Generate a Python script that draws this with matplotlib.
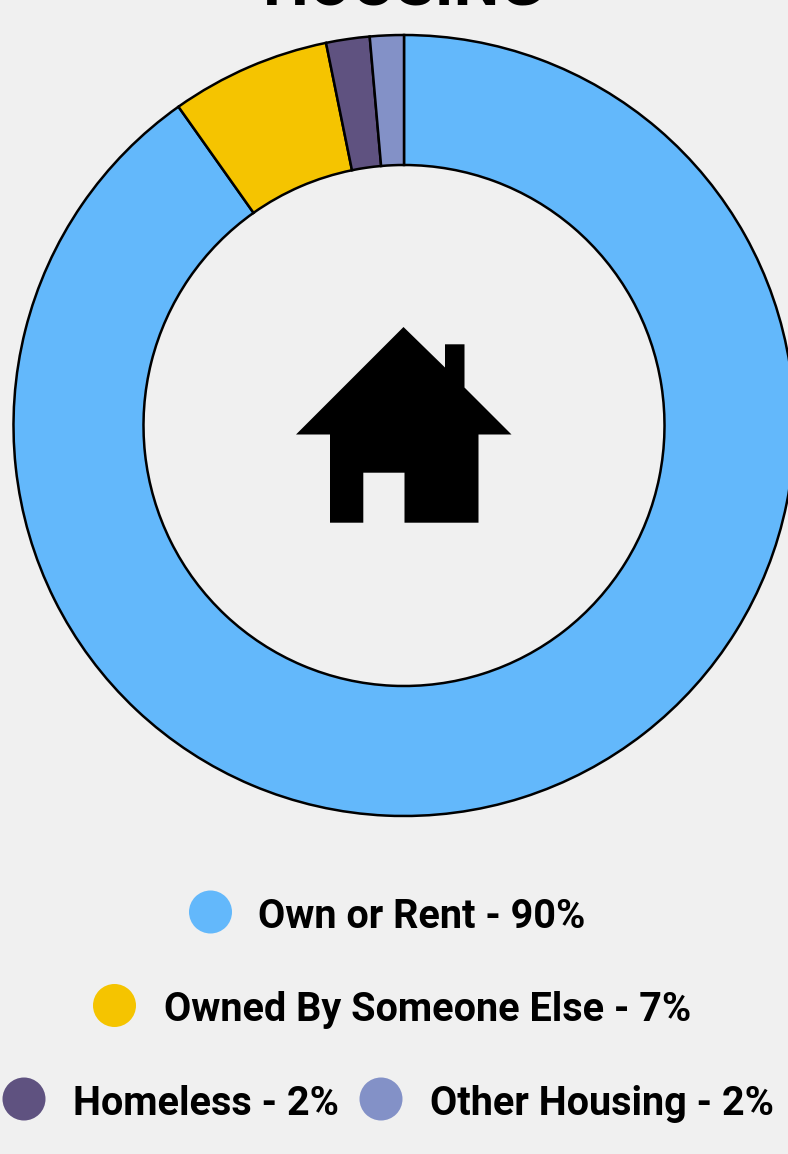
import matplotlib
matplotlib.use("Agg")
import matplotlib.pyplot as plt
from matplotlib.patches import Circle, Polygon

# Housing shares (legend shows rounded numbers)
categories = ["Own or Rent", "Owned By Someone Else", "Homeless", "Other Housing"]
shares = [90.2, 6.6, 1.8, 1.4]
legend_pct = ["90%", "7%", "2%", "2%"]
colors = ["#63B8FB", "#F5C400", "#5F5280", "#8391C7"]

W, H = 788, 1154
BG = "#F0F0F0"
plt.rcParams["font.family"] = ["Roboto", "DejaVu Sans"]

fig = plt.figure(figsize=(W / 100, H / 100), dpi=100, facecolor=BG)
# axes in pixels, y flipped by hand through py()
ax = fig.add_axes([0, 0, 1, 1])


def py(y):
    return H - y


ax.pie(shares, colors=colors, startangle=90, counterclock=False,
       center=(404, py(425.5)), radius=390.5, frame=True,
       wedgeprops={"width": 130, "edgecolor": "black", "linewidth": 1.8})
ax.set_xlim(0, W)
ax.set_ylim(0, H)
ax.axis("off")

# title is cut off by the top edge in the original
ax.text(403.5, py(5.5), "HOUSING", ha="center", va="baseline", fontsize=46.5,
        fontweight="bold", color="black")

# house icon
house = [(403.5, 327), (445, 367.5), (445, 344.3), (464.5, 344.3), (464.5, 387.5),
         (511.5, 434.5), (478.5, 434.5), (478.5, 522.7), (404.5, 522.7), (404.5, 472.7),
         (363.3, 472.7), (363.3, 522.7), (330, 522.7), (330, 434.5), (296, 434.5)]
ax.add_patch(Polygon([(x, py(y)) for x, y in house], closed=True, fc="black", ec="none"))

# legend, laid out by hand in rows like the original
dot_x = [210.5, 114.5, 24, 381]
dot_y = [912, 1005.5, 1099, 1099]
text_x = [258, 164, 73, 430]
base_y = [928, 1021, 1115, 1115]
for i, name in enumerate(categories):
    ax.add_patch(Circle((dot_x[i], py(dot_y[i])), 21.5, fc=colors[i], ec="none"))
    ax.text(text_x[i], py(base_y[i]), f"{name} - {legend_pct[i]}", ha="left", va="baseline",
            fontsize=28.5, fontweight="bold", color="black")

fig.savefig("out.png", dpi=100, facecolor=BG)
